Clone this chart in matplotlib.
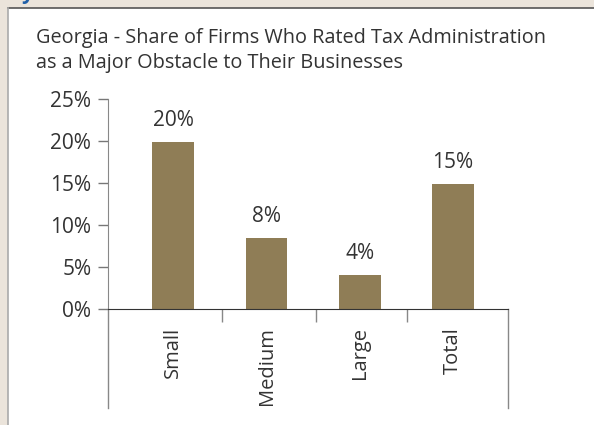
#!/usr/bin/env python
# -*- coding: utf-8 -*-

import matplotlib
matplotlib.use('Agg')
import matplotlib.pyplot as plt
from matplotlib.patches import Rectangle
from matplotlib.lines import Line2D

title = 'Georgia - Share of Firms Who Rated Tax Administration\nas a Major Obstacle to Their Businesses'
categories = ['Small', 'Medium', 'Large', 'Total']
values = [19.9, 8.4, 4.1, 14.9]
yticks = [0, 5, 10, 15, 20, 25]

BAR = '#8f7d56'
TXT = '#333333'
FS = 15


def plot_chart(out_file=None):
	plt.rcParams['font.family'] = ['Open Sans', 'DejaVu Sans']
	W, H = 594, 425
	fig = plt.figure(figsize=(W / 100., H / 100.), dpi=100)
	fig.patch.set_facecolor('#ebe4db')

	# white panel with border
	fig.patches.append(Rectangle((8. / W, 0), 1, 1 - 8. / H, transform=fig.transFigure,
								 facecolor='white', edgecolor='none', zorder=-1))
	fig.add_artist(Line2D([8. / W, 1], [1 - 8. / H] * 2, color='#555555', lw=1.2))
	fig.add_artist(Line2D([8. / W] * 2, [0, 1 - 8. / H], color='#aaaaaa', lw=1.2))
	# cut-off blue letter at the very top
	fig.text(22. / W, 1 + 1. / H, 'y', color='#1f5fa8', fontsize=15, fontweight='bold',
			 va='baseline', ha='left')

	fig.text(36. / W, 1 - 28. / H, title, color=TXT, fontsize=14.3, va='top', ha='left',
			 linespacing=1.33)

	ax = fig.add_axes([108. / W, (H - 309.) / H, 400. / W, 210. / H])
	ax.set_facecolor('none')
	x = range(len(categories))
	ax.bar(x, values, width=0.45, color=BAR, zorder=2)
	for xi, v in zip(x, values):
		ax.annotate('%.0f%%' % v, (xi, v), xytext=(0, 11.5), textcoords='offset points',
					ha='center', va='baseline', fontsize=FS, color=TXT)

	ax.set_ylim(0, 25)
	ax.set_xlim(-0.70, 3.59)
	ax.set_yticks(yticks)
	ax.set_yticklabels(['%d%%' % t for t in yticks])
	ax.tick_params(axis='y', length=7, width=1, color='#777777', labelsize=FS,
				   labelcolor=TXT, pad=5)

	ax.set_xticks(list(x))
	ax.set_xticklabels(categories, rotation=90, fontsize=14.5, color=TXT)
	ax.tick_params(axis='x', which='major', length=0, pad=13)
	ax.set_xticks([0.52, 1.53, 2.51], minor=True)
	ax.tick_params(axis='x', which='minor', length=9, width=1, color='#888888')

	for s in ['top', 'right']:
		ax.spines[s].set_visible(False)
	ax.spines['left'].set_color('#888888')
	ax.spines['bottom'].set_color('#333333')
	ax.spines['bottom'].set_zorder(3)

	# axis lines running down below the category labels
	ax.add_line(Line2D([0, 0], [0, -0.47], transform=ax.transAxes, color='#888888',
					   lw=1, clip_on=False))
	ax.add_line(Line2D([1, 1], [0, -0.47], transform=ax.transAxes, color='#888888',
					   lw=1, clip_on=False))

	if out_file:
		plt.savefig(out_file, dpi=100, facecolor=fig.get_facecolor())
	else:
		plt.show()


def main():
	plot_chart('out.png')


if __name__ == '__main__':
	main()
